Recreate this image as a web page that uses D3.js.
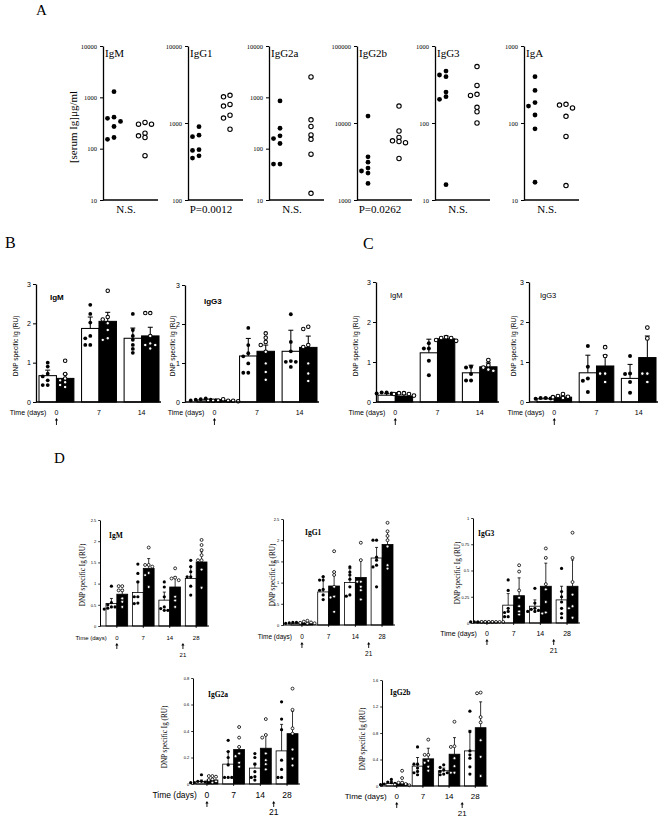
<!DOCTYPE html>
<html>
<head>
<meta charset="utf-8">
<script src="https://cdn.jsdelivr.net/npm/d3@7"></script>
<style>body{margin:0;background:#fff}</style>
</head>
<body>
<svg id="fig" width="672" height="820"></svg>
<script>
// ---------- Panel A: serum Ig (ug/ml), filled = wt, open = ko ----------
var isotypesA = ["IgM", "IgG1", "IgG2a", "IgG2b", "IgG3", "IgA"];
var pLabelsA = ["N.S.", "P=0.0012", "N.S.", "P=0.0262", "N.S.", "N.S."];
var domainsA = [[10, 10000], [100, 10000], [10, 10000], [1000, 100000], [10, 1000], [10, 1000]];
var filledA = [
  [1290, 410, 390, 340, 270, 165, 152],
  [895, 695, 665, 450, 440, 375, 350],
  [850, 250, 178, 157, 126, 50, 50],
  [12300, 3640, 3100, 2600, 2380, 2240, 1640],
  [473, 420, 400, 252, 220, 203, 15.8],
  [400, 265, 184, 166, 127, 84, 17]
];
var openA = [
  [325, 300, 300, 200, 178, 165, 73],
  [2290, 2190, 1745, 1660, 1260, 1160, 830],
  [2500, 365, 270, 185, 152, 78, 13.5],
  [16600, 7870, 6500, 5870, 5750, 5560, 3460],
  [540, 308, 236, 228, 160, 140, 100],
  [175, 171, 157, 122, 67, 15.4]
];

// ---------- Panels B, C, D: DNP specific Ig (RU) ----------
var daysBC = ["0", "7", "14"];
var daysD = ["0", "7", "14", "28"];

// each day: [wt bar, ko bar]
var bIgMMean = [[0.67, 0.60], [1.87, 2.05], [1.62, 1.68]];
var bIgMErr = [[0.14, 0.11], [0.29, 0.23], [0.26, 0.22]];
var bIgMWt = [[0.65, 1.0, 0.9, 0.72, 0.43, 0.43, 0.55], [2.47, 2.24, 2.02, 1.68, 1.62, 1.45, 1.45], [2.24, 1.83, 1.68, 1.45, 1.58, 1.25, 1.35]];
var bIgMKo = [[1.05, 0.71, 0.6, 0.55, 0.43, 0.38, 0.5], [2.83, 2.16, 2.0, 1.83, 1.58, 1.62, 2.1], [2.26, 2.26, 1.68, 1.45, 1.36, 1.49, 1.45]];

var bIgG3Mean = [[0.05, 0.03], [1.18, 1.30], [1.30, 1.40]];
var bIgG3Err = [[0.02, 0.01], [0.45, 0.16], [0.54, 0.29]];
var bIgG3Wt = [[0.07, 0.09, 0.06, 0.05, 0.04, 0.06, 0.03], [1.9, 1.46, 1.17, 0.75, 0.75, 0.99, 1.25], [2.25, 1.54, 1.05, 1.03, 0.9, 1.03, 1.3]];
var bIgG3Ko = [[0.03, 0.03, 0.03, 0.04, 0.07, 0.02, 0.03], [1.76, 1.65, 1.54, 1.46, 1.29, 0.99, 0.77, 0.57], [1.87, 1.93, 1.41, 0.99, 0.73, 0.54, 1.46]];

var cIgMMean = [[0.17, 0.15], [1.23, 1.58], [0.73, 0.88]];
var cIgMErr = [[0.04, 0.04], [0.34, 0.07], [0.19, 0.10]];
var cIgMWt = [[0.21, 0.24, 0.21, 0.24, 0.2], [1.47, 1.34, 1.34, 1.03, 0.67], [0.88, 0.86, 0.54, 0.54, 0.70]];
var cIgMKo = [[0.2, 0.22, 0.2, 0.16, 0.22], [1.6, 1.62, 1.53, 1.55, 1.6], [1.05, 0.92, 0.86, 0.78, 0.81]];

var cIgG3Mean = [[0.08, 0.12], [0.73, 0.90], [0.59, 1.11]];
var cIgG3Err = [[0.02, 0.03], [0.44, 0.27], [0.35, 0.54]];
var cIgG3Wt = [[0.1, 0.08, 0.1, 0.08, 0.09], [1.40, 0.88, 0.59, 0.25, 0.53], [1.15, 0.70, 0.5, 0.23, 0.71]];
var cIgG3Ko = [[0.2, 0.15, 0.12, 0.13, 0.1], [1.37, 1.15, 0.71, 0.5, 0.71], [1.86, 1.59, 0.71, 0.71, 0.5]];

var dIgMMean = [[0.53, 0.75], [0.79, 1.36], [0.61, 0.92], [1.12, 1.51]];
var dIgMErr = [[0.12, 0.11], [0.25, 0.23], [0.19, 0.24], [0.28, 0.24]];
var dIgMWt = [[0.94, 0.55, 0.5, 0.45, 0.45, 0.42, 0.4], [1.46, 1.24, 1.04, 0.69, 0.53, 0.69, 0.54], [1.04, 0.92, 0.69, 0.37, 0.37, 0.41, 0.45], [1.55, 1.40, 1.28, 1.16, 1.16, 0.94, 0.73]];
var dIgMKo = [[0.94, 0.94, 0.84, 0.84, 0.65, 0.45, 0.57], [1.85, 1.40, 1.44, 1.44, 1.2, 0.92, 1.25], [1.36, 1.14, 1.12, 1.08, 0.69, 0.45, 0.6], [2.03, 1.91, 1.79, 1.67, 1.55, 1.55, 1.33, 0.9]];

var dIgG1Mean = [[0.04, 0.03], [0.78, 0.92], [1.00, 1.12], [1.58, 1.90]];
var dIgG1Err = [[0.02, 0.02], [0.36, 0.33], [0.33, 0.41], [0.25, 0.31]];
var dIgG1Wt = [[0.06, 0.05, 0.06, 0.04, 0.03, 0.05, 0.04], [1.14, 1.06, 0.84, 0.71, 0.60, 1.06, 0.82], [1.37, 1.25, 1.18, 0.9, 0.71, 0.68, 1.08], [2.0, 2.0, 1.53, 1.41, 1.37, 1.6, 0.9]];
var dIgG1Ko = [[0.1, 0.04, 0.06, 0.08, 0.03, 0.05], [1.74, 1.25, 1.18, 0.67, 0.65, 0.31, 0.9], [1.94, 1.53, 1.02, 1.02, 0.82, 0.6, 0.9], [2.41, 2.21, 2.1, 2.0, 1.41, 1.33, 1.85]];

var dIgG3Mean = [[0.01, 0.01], [0.17, 0.26], [0.16, 0.35], [0.22, 0.35]];
var dIgG3Err = [[0.005, 0.005], [0.11, 0.17], [0.06, 0.22], [0.13, 0.25]];
var dIgG3Wt = [[0.01, 0.01, 0.01, 0.01, 0.01, 0.01, 0.01], [0.41, 0.31, 0.11, 0.14, 0.06, 0.06, 0.1], [0.33, 0.19, 0.11, 0.11, 0.14, 0.12, 0.13], [0.52, 0.25, 0.2, 0.09, 0.05, 0.14, 0.3]];
var dIgG3Ko = [[0.01, 0.01, 0.01, 0.01, 0.01, 0.01, 0.01], [0.55, 0.49, 0.31, 0.24, 0.11, 0.08, 0.16], [0.71, 0.62, 0.37, 0.32, 0.1, 0.09, 0.2], [0.86, 0.62, 0.39, 0.27, 0.16, 0.14, 0.05]];

var dIgG2aMean = [[0.02, 0.03], [0.15, 0.26], [0.12, 0.27], [0.25, 0.38]];
var dIgG2aErr = [[0.01, 0.01], [0.095, 0.02], [0.036, 0.10], [0.20, 0.17]];
var dIgG2aWt = [[0.07, 0.02, 0.01, 0.02, 0.01, 0.015, 0.01], [0.33, 0.245, 0.2, 0.144, 0.05, 0.05, 0.05], [0.23, 0.2, 0.15, 0.093, 0.055, 0.03, 0.05], [0.62, 0.49, 0.41, 0.18, 0.11, 0.05, 0.05]];
var dIgG2aKo = [[0.06, 0.06, 0.035, 0.055, 0.02, 0.03, 0.01], [0.43, 0.35, 0.28, 0.23, 0.21, 0.16, 0.13], [0.49, 0.37, 0.23, 0.18, 0.11, 0.15, 0.35], [0.72, 0.56, 0.38, 0.26, 0.19, 0.14, 0.42]];

var dIgG2bMean = [[0.04, 0.04], [0.30, 0.41], [0.23, 0.48], [0.53, 0.88]];
var dIgG2bErr = [[0.03, 0.02], [0.13, 0.16], [0.04, 0.25], [0.31, 0.39]];
var dIgG2bWt = [[0.1, 0.05, 0.04, 0.03, 0.06, 0.02, 0.03], [0.59, 0.33, 0.33, 0.27, 0.22, 0.17, 0.2], [0.32, 0.28, 0.24, 0.22, 0.2, 0.18, 0.17], [1.13, 0.82, 0.53, 0.42, 0.29, 0.18, 0.47]];
var dIgG2bKo = [[0.23, 0.12, 0.05, 0.05, 0.02, 0.03, 0.01], [0.7, 0.47, 0.47, 0.29, 0.23, 0.35, 0.38], [0.97, 0.59, 0.6, 0.42, 0.30, 0.2, 0.2], [1.40, 1.41, 1.04, 0.96, 0.69, 0.44, 0.15]];

var ticksBC = [0, 1, 2, 3];

var SERIF = "'Liberation Serif', 'DejaVu Serif', serif";
var SANS = "'Liberation Sans', Arial, sans-serif";
var svg = d3.select("#fig");

function txt(g, s, x, y, size, fam, anchor, weight) {
  return g.append("text").attr("x", x).attr("y", y).text(s)
    .attr("font-size", size).attr("font-family", fam)
    .attr("text-anchor", anchor || "start")
    .attr("font-weight", weight || "normal").attr("fill", "#000");
}

function vlabel(g, s, x, y, size, fam) {
  g.append("text").attr("transform", "translate(" + x + "," + y + ") rotate(-90)")
    .attr("text-anchor", "middle").attr("font-size", size).attr("font-family", fam)
    .attr("fill", "#000").text(s);
}

// simple column dodge so points in a group don't sit on each other
function dodge(vals, y, cx, r, step) {
  var placed = [], out = [];
  var order = vals.map(function(v, i) { return i; })
    .sort(function(a, b) { return vals[b] - vals[a]; });
  var ks = [0, -1, 1, -2, 2, -3, 3, -4, 4];
  order.forEach(function(i) {
    var py = y(vals[i]), k = 0;
    for (var j = 0; j < ks.length; j++) {
      k = ks[j];
      var clash = placed.some(function(p) { return p.k === k && Math.abs(p.y - py) < 2 * r - 0.4; });
      if (!clash) break;
    }
    placed.push({k: k, y: py});
    out[i] = {x: cx + k * step, y: py};
  });
  return out;
}

function dots(g, pts, r, open, sw) {
  g.selectAll(null).data(pts).enter().append("circle")
    .attr("cx", function(d) { return d.x; }).attr("cy", function(d) { return d.y; })
    .attr("r", r)
    .attr("fill", open ? "#fff" : "#000")
    .attr("stroke", "#000").attr("stroke-width", open ? sw : 0);
}

function styleAxis(sel, fam, fs, lw) {
  sel.attr("font-family", fam).attr("font-size", fs);
  sel.select(".domain").attr("stroke-width", lw);
  sel.selectAll(".tick line").attr("stroke-width", lw * 0.8);
  sel.selectAll(".tick text").attr("fill", "#000");
}

function arrow(g, x, y, h) {
  g.append("path").attr("d", "M" + (x - 1.6) + "," + (y + 2.6) + "L" + x + "," + y + "L" + (x + 1.6) + "," + (y + 2.6) + "Z")
    .attr("fill", "#000");
  g.append("line").attr("x1", x).attr("x2", x).attr("y1", y + 2).attr("y2", y + h)
    .attr("stroke", "#000").attr("stroke-width", 0.9);
}

// ---------- letters ----------
txt(svg, "A", 36, 15, 15, SERIF);
txt(svg, "B", 5, 248, 16, SERIF);
txt(svg, "C", 363, 249, 16, SERIF);
txt(svg, "D", 54, 463, 15, SERIF);

// ---------- Panel A ----------
var axisXA = [103, 188, 269, 357, 435, 524];
var gA = svg.append("g");
vlabel(gA, "[serum Ig]\u03bcg/ml", 77, 127, 11, SERIF);
isotypesA.forEach(function(name, i) {
  var ax = axisXA[i];
  var dom = domainsA[i];
  var y = d3.scaleLog().domain(dom).range([200, 46]);
  var decades = d3.range(Math.log10(dom[0]), Math.log10(dom[1]) + 1).map(function(e) { return Math.pow(10, e); });
  gA.append("g").attr("transform", "translate(" + ax + ",0)")
    .call(d3.axisLeft(y).tickValues(decades).tickFormat(d3.format("d")).tickSize(3).tickSizeOuter(0).tickPadding(3))
    .call(styleAxis, SERIF, 6.5, 1.3);
  gA.append("line").attr("x1", ax).attr("x2", ax + 55).attr("y1", 200).attr("y2", 200)
    .attr("stroke", "#000").attr("stroke-width", 1.3);
  txt(gA, name, ax + 2, 57, 11, SERIF);
  txt(gA, pLabelsA[i], ax + 23, 213, 11, SERIF, "middle");
  var grp = d3.scalePoint().domain(["wt", "ko"]).range([ax + 11, ax + 42]);
  dots(gA, dodge(filledA[i], y, grp("wt"), 2.4, 6.5), 2.4, false);
  dots(gA, dodge(openA[i], y, grp("ko"), 2.2, 6.5), 2.2, true, 1.1);
});

// ---------- bar charts ----------
var charts = [
  {mean: bIgMMean, err: bIgMErr, wt: bIgMWt, ko: bIgMKo, days: daysBC, ticks: ticksBC, title: "IgM", bold: true, tfam: SANS,
   axisX: 36, x0: 39, x1: 159, yTop: 284, yBot: 402, titleX: 50, titleY: 300, titleFs: 8, ylabX: 18, ylabY: 346, ylabFam: SANS, ylabFs: 6.6,
   tickFs: 7, lblY: 415, lblFs: 7, r: 1.9, step: 5, cap: 5, lw: 1.3, d21: false},
  {mean: bIgG3Mean, err: bIgG3Err, wt: bIgG3Wt, ko: bIgG3Ko, days: daysBC, ticks: ticksBC, title: "IgG3", bold: true, tfam: SANS,
   axisX: 185, x0: 197, x1: 317, yTop: 285, yBot: 402, titleX: 204, titleY: 304, titleFs: 8, ylabX: 175, ylabY: 346, ylabFam: SANS, ylabFs: 6.6,
   tickFs: 7, lblY: 415, lblFs: 7, r: 1.9, step: 5, cap: 5, lw: 1.3, d21: false},
  {mean: cIgMMean, err: cIgMErr, wt: cIgMWt, ko: cIgMKo, days: daysBC, ticks: ticksBC, title: "IgM", bold: false, tfam: SANS,
   axisX: 376, x0: 378, x1: 497, yTop: 282, yBot: 402, titleX: 390, titleY: 298, titleFs: 7.5, ylabX: 358, ylabY: 346, ylabFam: SANS, ylabFs: 6.6,
   tickFs: 7, lblY: 415, lblFs: 7, r: 2, step: 5, cap: 5, lw: 1.3, d21: false},
  {mean: cIgG3Mean, err: cIgG3Err, wt: cIgG3Wt, ko: cIgG3Ko, days: daysBC, ticks: ticksBC, title: "IgG3", bold: false, tfam: SANS,
   axisX: 529, x0: 537, x1: 656, yTop: 282, yBot: 402, titleX: 540, titleY: 298, titleFs: 7.5, ylabX: 516, ylabY: 346, ylabFam: SANS, ylabFs: 6.6,
   tickFs: 7, lblY: 415, lblFs: 7, r: 2, step: 5, cap: 5, lw: 1.3, d21: false},
  {mean: dIgMMean, err: dIgMErr, wt: dIgMWt, ko: dIgMKo, days: daysD, ticks: [0, 0.5, 1, 1.5, 2, 2.5], title: "IgM", bold: true, tfam: SERIF,
   axisX: 100, x0: 106, x1: 207, yTop: 520, yBot: 626, titleX: 109, titleY: 538, titleFs: 7.5, ylabX: 85, ylabY: 575, ylabFam: SERIF, ylabFs: 7.2,
   tickFs: 4, lblY: 640, lblFs: 6, r: 1.6, step: 3.6, cap: 3, lw: 1, d21: true},
  {mean: dIgG1Mean, err: dIgG1Err, wt: dIgG1Wt, ko: dIgG1Ko, days: daysD, ticks: [0, 0.5, 1, 1.5, 2, 2.5], title: "IgG1", bold: true, tfam: SERIF,
   axisX: 283, x0: 291, x1: 393, yTop: 519, yBot: 625, titleX: 305, titleY: 535, titleFs: 7.5, ylabX: 275, ylabY: 575, ylabFam: SERIF, ylabFs: 7.2,
   tickFs: 4, lblY: 639, lblFs: 6.5, r: 1.6, step: 3.6, cap: 3, lw: 1, d21: true},
  {mean: dIgG3Mean, err: dIgG3Err, wt: dIgG3Wt, ko: dIgG3Ko, days: daysD, ticks: [0, 0.25, 0.5, 0.75, 1], title: "IgG3", bold: true, tfam: SERIF,
   axisX: 473, x0: 476, x1: 578, yTop: 518, yBot: 623, titleX: 478, titleY: 536, titleFs: 7.5, ylabX: 460, ylabY: 573, ylabFam: SERIF, ylabFs: 7.2,
   tickFs: 4, lblY: 636, lblFs: 7, r: 1.6, step: 3.6, cap: 3, lw: 1, d21: true},
  {mean: dIgG2aMean, err: dIgG2aErr, wt: dIgG2aWt, ko: dIgG2aKo, days: daysD, ticks: [0, 0.2, 0.4, 0.6, 0.8], title: "IgG2a", bold: true, tfam: SERIF,
   axisX: 193, x0: 196, x1: 298, yTop: 678, yBot: 784, titleX: 208, titleY: 697, titleFs: 7.5, ylabX: 167, ylabY: 737, ylabFam: SERIF, ylabFs: 7.2,
   tickFs: 4, lblY: 798, lblFs: 8.5, r: 1.6, step: 3.6, cap: 3, lw: 1, d21: true},
  {mean: dIgG2bMean, err: dIgG2bErr, wt: dIgG2bWt, ko: dIgG2bKo, days: daysD, ticks: [0, 0.4, 0.8, 1.2, 1.6], title: "IgG2b", bold: true, tfam: SERIF,
   axisX: 382, x0: 386, x1: 486, yTop: 680, yBot: 786, titleX: 390, titleY: 695, titleFs: 7.5, ylabX: 365, ylabY: 739, ylabFam: SERIF, ylabFs: 7.2,
   tickFs: 4, lblY: 799, lblFs: 8, r: 1.6, step: 3.6, cap: 3, lw: 1, d21: true}
];

charts.forEach(function(c) {
  var g = svg.append("g");
  var y = d3.scaleLinear().domain([0, d3.max(c.ticks)]).range([c.yBot, c.yTop]);
  var x = d3.scaleBand().domain(c.days).range([c.x0, c.x1]).paddingInner(0.18).paddingOuter(0);
  var bw = x.bandwidth() / 2;

  // bars (wt white, ko black)
  c.days.forEach(function(d, i) {
    [0, 1].forEach(function(s) {
      var m = c.mean[i][s];
      g.append("rect").attr("x", x(d) + s * bw).attr("y", y(m))
        .attr("width", bw).attr("height", y(0) - y(m))
        .attr("fill", s ? "#000" : "#fff").attr("stroke", "#000").attr("stroke-width", c.lw * 0.8);
    });
  });
  // error bars
  c.days.forEach(function(d, i) {
    [0, 1].forEach(function(s) {
      var cx = x(d) + s * bw + bw / 2, m = c.mean[i][s], e = m + c.err[i][s];
      g.append("line").attr("x1", cx).attr("x2", cx).attr("y1", y(m)).attr("y2", y(e))
        .attr("stroke", "#000").attr("stroke-width", c.lw * 0.8);
      g.append("line").attr("x1", cx - c.cap / 2).attr("x2", cx + c.cap / 2).attr("y1", y(e)).attr("y2", y(e))
        .attr("stroke", "#000").attr("stroke-width", c.lw * 0.8);
    });
  });
  // points
  c.days.forEach(function(d, i) {
    dots(g, dodge(c.wt[i], y, x(d) + bw / 2, c.r, c.step), c.r, false);
    dots(g, dodge(c.ko[i], y, x(d) + bw * 1.5, c.r, c.step), c.r * 0.92, true, c.lw * 0.8);
  });

  // axes
  g.append("g").attr("transform", "translate(" + c.axisX + ",0)")
    .call(d3.axisLeft(y).tickValues(c.ticks).tickFormat(d3.format("")).tickSize(c.cap * 0.6).tickSizeOuter(0).tickPadding(2))
    .call(styleAxis, SANS, c.tickFs, c.lw);
  g.append("line").attr("x1", c.axisX).attr("x2", c.x1 + 2).attr("y1", c.yBot).attr("y2", c.yBot)
    .attr("stroke", "#000").attr("stroke-width", c.lw);
  if (c.d21) {
    c.days.forEach(function(d) {
      var cx = x(d) + bw;
      g.append("line").attr("x1", cx).attr("x2", cx).attr("y1", c.yBot).attr("y2", c.yBot + 2)
        .attr("stroke", "#000").attr("stroke-width", 0.8);
    });
  }

  txt(g, c.title, c.titleX, c.titleY, c.titleFs, c.tfam, "start", c.bold ? "bold" : "normal");
  vlabel(g, "DNP specific Ig (RU)", c.ylabX, c.ylabY, c.ylabFs, c.ylabFam);

  // time axis labels
  var c0 = x(c.days[0]) + bw;
  txt(g, "Time (days)", c0 - 10, c.lblY, c.lblFs, SANS, "end");
  c.days.forEach(function(d) {
    txt(g, d, x(d) + bw, c.lblY, c.lblFs, SANS, "middle");
  });
  arrow(g, c0, c.lblY + 3, c.d21 ? 6 : 7);
  if (c.d21) {
    var c21 = (x("14") + x("28")) / 2 + bw;
    arrow(g, c21, c.lblY + 3, 6);
    txt(g, "21", c21, c.lblY + 17, c.lblFs, SANS, "middle");
  }
});
</script>
</body>
</html>
